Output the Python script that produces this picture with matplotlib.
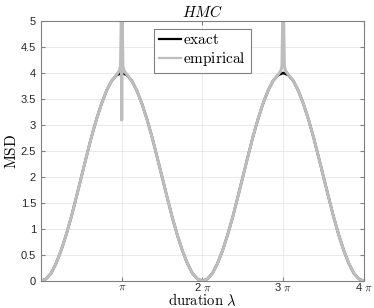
import numpy as np
import matplotlib.pyplot as plt

plt.rcParams['mathtext.fontset'] = 'cm'
plt.rcParams['font.family'] = ['Liberation Sans', 'DejaVu Sans']

# duration grid, in units of pi (step pi/16)
lam_exact = np.arange(0, 4.0001, 1 / 16)
half_arc = [0.0, 0.04, 0.15, 0.34, 0.59, 0.89, 1.23, 1.61, 2.0,
            2.39, 2.77, 3.11, 3.41, 3.66, 3.85, 3.96, 4.0]
arc = half_arc + half_arc[-2::-1]
msd_exact = arc + arc[1:]

# empirical: follows exact, with spikes at pi and 3 pi
peak_x = [0.97, 0.985, 1.0, 1.0, 1.0, 1.015, 1.03]
peak_y1 = [4.04, 4.13, 5.6, 3.1, 5.6, 4.13, 4.04]
peak_y3 = [4.04, 4.13, 5.6, 5.6, 5.6, 4.13, 4.04]

lam_emp = []
msd_emp = []
for x, y in zip(lam_exact, msd_exact):
    if abs(x - 1) < 1e-9:
        lam_emp += peak_x
        msd_emp += peak_y1
    elif abs(x - 3) < 1e-9:
        lam_emp += [p + 2 for p in peak_x]
        msd_emp += peak_y3
    else:
        lam_emp.append(x)
        msd_emp.append(y + 0.01 if y > 3.9 else y)

fig = plt.figure(figsize=(3.74, 3.08), dpi=100)
ax = fig.add_axes([0.1096, 0.0877, 0.8634, 0.8443])

ax.plot(np.array(lam_exact) * np.pi, msd_exact, color='black', lw=1.8, label='exact')
ax.plot(np.array(lam_emp) * np.pi, msd_emp, color='#bdbdbd', lw=2.2, label='empirical')

ax.set_xlim(0, 4 * np.pi)
ax.set_ylim(0, 5)
ax.set_xticks([np.pi, 2 * np.pi, 3 * np.pi, 4 * np.pi])
ax.set_xticklabels([r'$\pi$', r'2 $\pi$', r'3 $\pi$', r'4 $\pi$'])
ax.set_yticks(np.arange(0, 5.01, 0.5))
ax.set_yticklabels(['0', '0.5', '1', '1.5', '2', '2.5', '3', '3.5', '4', '4.5', '5'])
ax.tick_params(direction='in', length=3, labelsize=8, colors='#262626',
               top=True, right=True, color='#808080')
ax.tick_params(axis='x', pad=0.5)
ax.grid(True, color='#e6e6e6', lw=0.6)
for s in ax.spines.values():
    s.set_color('#808080')
    s.set_linewidth(0.8)

ax.set_title(r'$HMC$', fontsize=11, pad=3)
ax.set_xlabel(r'$\mathrm{duration}\ \lambda$', fontsize=10.5, labelpad=-1)
ax.set_ylabel(r'$\mathrm{MSD}$', fontsize=11, labelpad=1)

leg = ax.legend(loc='upper center', bbox_to_anchor=(0.5, 1.0),
                labels=[r'$\mathrm{exact}$', r'$\mathrm{empirical}$'],
                handlelength=1.45, borderpad=0.3, labelspacing=0.2,
                handletextpad=0.15, fancybox=False, framealpha=1,
                edgecolor='#808080', fontsize=11)
leg.get_frame().set_linewidth(0.8)
for h in leg.get_lines():
    h.set_linewidth(1.6)

fig.savefig('out.png', dpi=100)
